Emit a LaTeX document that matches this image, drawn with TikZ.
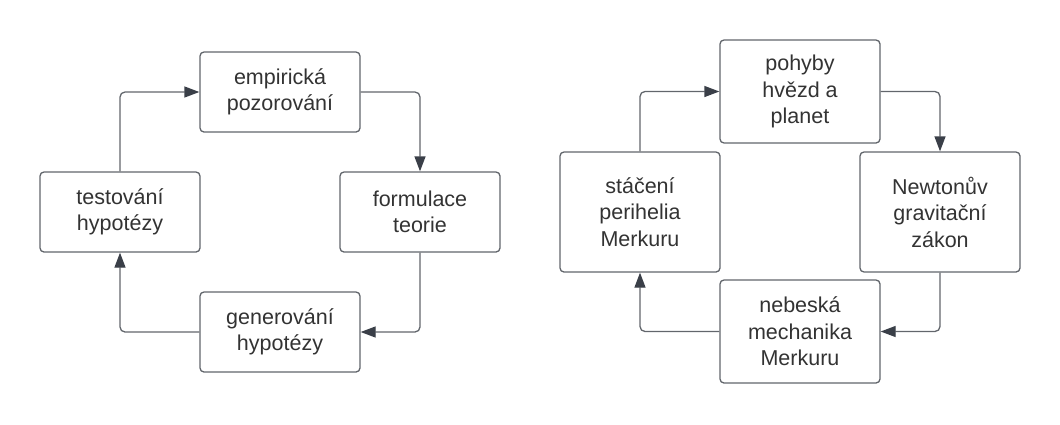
\documentclass[tikz,border=0pt]{standalone}
\usepackage{fontspec}
\setmainfont{Liberation Sans}
\usetikzlibrary{arrows.meta}
\definecolor{linegray}{RGB}{98,102,108}
\definecolor{tipgray}{RGB}{58,63,72}
\definecolor{textgray}{RGB}{51,51,51}
\begin{document}
\begin{tikzpicture}[x=1pt, y=-1pt,
    box/.style={draw=linegray, line width=1.3pt, rounded corners=4pt, fill=white,
        minimum width=160pt, align=center, text=textgray,
        font=\fontsize{21.5}{26.5}\selectfont},
    flow/.style={draw=linegray, line width=1.3pt, rounded corners=5pt,
        -{Triangle[length=15pt, width=11pt, fill=tipgray, color=tipgray]}}]
\useasboundingbox (0,0) rectangle (1060,424);

% scientific method cycle
\node[box, minimum height=80pt] (emp) at (280,92) {empirická\\pozorování};
\node[box, minimum height=80pt] (form) at (420,212) {formulace\\teorie};
\node[box, minimum height=80pt] (gen) at (280,332) {generování\\hypotézy};
\node[box, minimum height=80pt] (test) at (120,212) {testování\\hypotézy};

\draw[flow] (test.north) |- (emp.west);
\draw[flow] (emp.east) -| (form.north);
\draw[flow] (form.south) |- (gen.east);
\draw[flow] (gen.west) -| (test.south);

% Mercury example
\node[box, minimum height=103pt] (stars) at (800,91.5) {pohyby\\hvězd a\\planet};
\node[box, minimum height=120pt] (newton) at (940,212) {Newtonův\\gravitační\\zákon};
\node[box, minimum height=103pt] (celest) at (800,331.5) {nebeská\\mechanika\\Merkuru};
\node[box, minimum height=120pt] (perih) at (640,212) {stáčení\\perihelia\\Merkuru};

\draw[flow] (perih.north) |- (stars.west);
\draw[flow] (stars.east) -| (newton.north);
\draw[flow] (newton.south) |- (celest.east);
\draw[flow] (celest.west) -| (perih.south);
\end{tikzpicture}
\end{document}
